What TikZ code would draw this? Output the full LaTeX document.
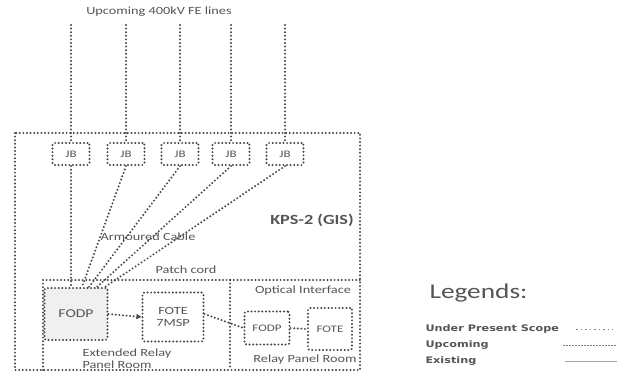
\documentclass[tikz,border=0pt]{standalone}
\usepackage{fontspec}
\setmainfont{Carlito}
\newfontfamily\labelfont[FakeStretch=1.3]{Carlito}
\newfontfamily\legendfont[FakeStretch=1.25]{DejaVu Sans}
\usetikzlibrary{arrows.meta}
\definecolor{linegray}{RGB}{70,70,70}
\definecolor{textgray}{RGB}{85,85,85}
\tikzset{
  dotline/.style={linegray, line width=2.2pt, line cap=round, dash pattern=on 0pt off 3.6pt},
  dotbox/.style={dotline, draw, rectangle, rounded corners=2pt, text=textgray, align=center, font=\labelfont\fontsize{10}{11}\selectfont},
  lbl/.style={textgray, font=\labelfont\fontsize{11}{12}\selectfont},
  legendlbl/.style={textgray, anchor=west, font=\legendfont\fontsize{9}{10}\selectfont\bfseries},
}
\begin{document}
\begin{tikzpicture}[x=1pt,y=-1pt]
    \useasboundingbox (0,0) rectangle (617,382);
    % Station outline
    \draw[dotline] (15,133) rectangle (360,370);
    \draw[dotline] (43,370) -- (43,280) -- (360,280);
    \draw[dotline] (230,280) -- (230,370);
    \node[textgray, font=\labelfont\fontsize{14}{16}\selectfont\bfseries] (kps) at (312,220) {KPS-2 (GIS)};
    % Incoming lines and junction boxes
    \node[lbl] (title) at (159,12) {Upcoming 400kV FE lines};
    \foreach \i/\x in {1/71,2/126,3/180,4/231,5/285} {
        \node[dotbox, minimum width=37pt, minimum height=22pt] (jb\i) at (\x,154) {JB};
        \coordinate (top\i) at (\x,25);
        \draw[dotline] (top\i) -- (jb\i.north);
    }
    % Panel rooms
    \node[dotbox, fill=gray!12, minimum width=63pt, minimum height=52pt, font=\labelfont\fontsize{12}{13}\selectfont] (fodp) at (76,314) {FODP};
    \node[dotbox, minimum width=61pt, minimum height=49pt, font=\labelfont\fontsize{11}{12}\selectfont] (fote) at (173,317) {FOTE\\7MSP};
    \node[dotbox, minimum width=45pt, minimum height=33pt] (ofodp) at (267,328) {FODP};
    \node[dotbox, minimum width=44pt, minimum height=42pt] (ofote) at (330,329) {FOTE};
    \node[lbl, align=left, anchor=west] (erpr) at (79,359) {Extended Relay\\Panel Room};
    \node[lbl] (oi) at (303,291) {Optical Interface};
    \node[lbl] (rpr) at (305,360) {Relay Panel Room};
    % Cables
    \draw[dotline] (jb1.south) -- (jb1.south |- fodp.north);
    \draw[dotline] (jb2.south) -- ([xshift=6pt]fodp.north);
    \draw[dotline] (jb3.south) -- ([xshift=13pt]fodp.north);
    \draw[dotline] (jb4.south) -- ([xshift=21pt]fodp.north);
    \draw[dotline] (jb5.south) -- ([xshift=29pt]fodp.north);
    \node[lbl] (armour) at (148,237) {Armoured Cable};
    \node[lbl] (patch) at (186,270) {Patch cord};
    \draw[dotline, -{Triangle[length=5pt,width=5pt]}] (fodp.east) -- (fote.west);
    \draw[dotline] ([yshift=3pt]fote.east) -- (ofodp.west);
    \draw[dotline] (ofodp.east) -- (ofote.west);
    % Legends
    \node[textgray, font=\labelfont\fontsize{21}{23}\selectfont, anchor=west] (leg) at (426,293) {Legends:};
    \node[legendlbl] (l1) at (422,329) {Under Present Scope};
    \node[legendlbl] (l2) at (422,345) {Upcoming};
    \node[legendlbl] (l3) at (422,361) {Existing};
    \coordinate (s1) at (576,329); \coordinate (e1) at (613,329);
    \coordinate (s2) at (563,345); \coordinate (e2) at (617,345);
    \coordinate (s3) at (565,361); \coordinate (e3) at (617,361);
    \draw[gray, line width=0.9pt, dash pattern=on 1.5pt off 3pt] (s1) -- (e1);
    \draw[gray, line width=0.9pt, dash pattern=on 2pt off 1pt] (s2) -- (e2);
    \draw[gray!70, line width=0.9pt] (s3) -- (e3);
\end{tikzpicture}
\end{document}
